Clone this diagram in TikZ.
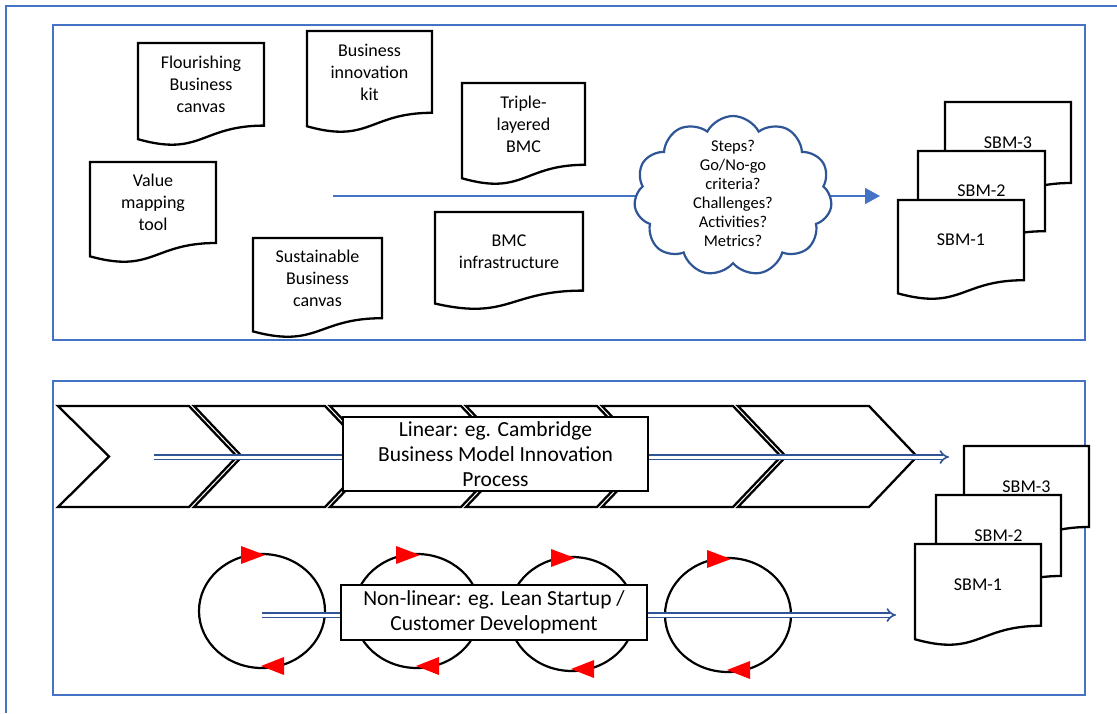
\documentclass[tikz,border=0pt]{standalone}
\usepackage{fontspec}
\setmainfont{Carlito}
\usetikzlibrary{shapes.symbols,arrows.meta}
\definecolor{frameblue}{RGB}{68,114,196}
\definecolor{cloudblue}{RGB}{47,85,151}
\definecolor{arrowblue}{RGB}{47,85,151}
\tikzset{
  docline/.style={draw=black, line width=2.3pt, fill=white, line join=miter},
  doctext/.style={align=center, inner sep=0pt, font=\fontsize{18}{22}\selectfont},
  panel/.style={draw=frameblue, line width=2.2pt},
  chevline/.style={draw=black, line width=2.3pt, fill=white, line join=miter},
  boxtext/.style={draw=black, line width=2.3pt, fill=white, align=center, inner sep=0pt, font=\fontsize{21.5}{25}\selectfont},
  dblarrow/.style={draw=arrowblue, double=white, double distance=3pt, line width=1.6pt, -{Implies}},
  loopline/.style={draw=black, line width=2.2pt},
  redtip/.style={fill=red, draw=none},
  thinarrow/.style={draw=frameblue, line width=1.6pt, -{Triangle[length=15pt,width=16pt]}},
}
\newcommand{\mydoc}[6]{%
  \draw[docline] (#2,#3) -- ({#2+#4},#3) -- ({#2+#4},{#3+0.802*#5})
    .. controls ({#2+0.5*#4},{#3+0.802*#5}) and ({#2+0.5*#4},{#3+1.1075*#5}) .. (#2,{#3+0.934*#5}) -- cycle;
  \node[doctext] (#1) at ({#2+0.5*#4},{#3+0.401*#5}) {#6};
}
\newcommand{\mychev}[2]{%
  \draw[chevline] (#1,406) -- ({#1+131},406) -- ({#1+179},456.5) -- ({#1+131},507) -- (#1,507) -- ({#1+#2},456.5) -- cycle;
}
\newcommand{\myloop}[3]{%
  \draw[loopline] (#2,#3) ellipse [x radius=63, y radius=57];
  \fill[redtip] ({#2-21},{#3-65}) -- ({#2+3},{#3-56}) -- ({#2-21},{#3-47}) -- cycle;
  \fill[redtip] ({#2+22},{#3+46}) -- ({#2-1},{#3+55}) -- ({#2+22},{#3+64}) -- cycle;
  \coordinate (#1) at (#2,#3);
}
\begin{document}
\begin{tikzpicture}[x=1pt,y=-1pt]
\useasboundingbox (0,0) rectangle (1117,713);
\fill[white] (0,0) rectangle (1117,713);
% outer frame
\draw[panel] (1117,6) -- (6,6) -- (6,713);
% top panel
\draw[panel] (53,25) rectangle (1085,340);
\coordinate (tstart) at (333,196);
\coordinate (tend) at (880,196);
\draw[thinarrow] (tstart) -- (tend);
\mydoc{flour}{138}{43}{126}{103}{Flourishing\\Business\\canvas}
\mydoc{bik}{307}{31}{125}{102}{Business\\innovation\\kit}
\mydoc{tlb}{462}{83}{123}{102}{Triple-\\layered\\BMC}
\mydoc{vmt}{90}{162}{126}{101}{Value\\mapping\\tool}
\mydoc{sbc}{253}{238}{129}{100}{Sustainable\\Business\\canvas}
\mydoc{bmci}{435}{212}{148}{98}{BMC\\infrastructure}
\node[cloud, cloud puffs=11, cloud puff arc=125, cloud ignores aspect, minimum width=198pt, minimum height=160pt, draw=cloudblue, line width=2.2pt, fill=white] (cloud) at (733,196) {};
\node[align=center, inner sep=0pt, font=\fontsize{16.5}{19}\selectfont] (cloudlbl) at (733,193) {Steps?\\Go/No-go\\criteria?\\Challenges?\\Activities?\\Metrics?};
\mydoc{tsbm3}{945}{102}{126}{101}{SBM-3}
\mydoc{tsbm2}{918}{151}{127}{100}{SBM-2}
\mydoc{tsbm1}{898}{200}{126}{100}{SBM-1}
% bottom panel
\draw[panel] (53,381) rectangle (1085,695);
\mychev{58}{51}
\mychev{194}{48}
\mychev{330}{48}
\mychev{466}{48}
\mychev{602}{48}
\mychev{738}{48}
\coordinate (lstart) at (154,457);
\coordinate (lend) at (949,457);
\draw[dblarrow] (lstart) -- (lend);
\node[boxtext, minimum width=305pt, minimum height=74pt] (linbox) at (495.5,454) {Linear: eg. Cambridge\\Business Model Innovation\\Process};
\myloop{c1}{262}{611}
\myloop{c2}{417}{611}
\myloop{c3}{572}{614}
\myloop{c4}{728}{615}
\coordinate (nend) at (896,615);
\draw[dblarrow] (c1) ++(0,4) coordinate (nstart) -- (nend);
\node[boxtext, minimum width=306pt, minimum height=55pt] (nlbox) at (494,612.5) {Non-linear: eg. Lean Startup /\\Customer Development};
\mydoc{bsbm3}{964}{446}{125}{101}{SBM-3}
\mydoc{bsbm2}{936}{495}{125}{101}{SBM-2}
\mydoc{bsbm1}{915}{544}{126}{102}{SBM-1}
\end{tikzpicture}
\end{document}
